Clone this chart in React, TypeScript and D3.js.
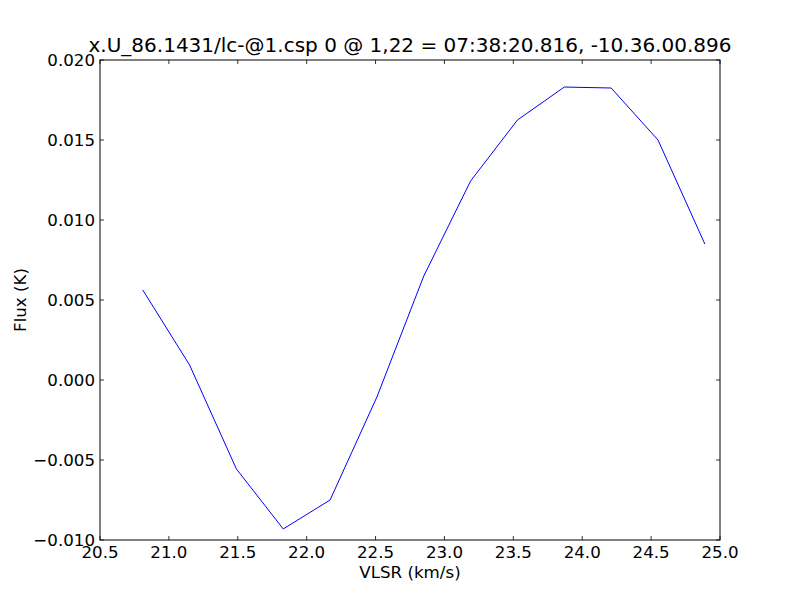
import React from "react";
import * as d3 from "d3";

const velocities = [20.81, 21.15, 21.49, 21.83, 22.17, 22.51, 22.85, 23.19, 23.53, 23.87, 24.21, 24.55, 24.89];
const flux = [0.00563, 0.00094, -0.00556, -0.00931, -0.0075, -0.00106, 0.0065, 0.01244, 0.01625, 0.01831, 0.01825, 0.015, 0.0085];
const xTicks = [20.5, 21.0, 21.5, 22.0, 22.5, 23.0, 23.5, 24.0, 24.5, 25.0];
const yTicks = [-0.01, -0.005, 0.0, 0.005, 0.01, 0.015, 0.02];

const W = 800, H = 600;
const L = 100, R = 720, T = 60, B = 540;
const FONT = "DejaVu Sans, sans-serif";

export default function App() {
  const x = d3.scaleLinear().domain([20.5, 25.0]).range([L, R]);
  const y = d3.scaleLinear().domain([-0.01, 0.02]).range([B, T]);
  const line = d3.line<number>().x((_, i) => x(velocities[i])).y((d) => y(d));
  const fmtY = (v: number) => (v < 0 ? "\u2212" : "") + Math.abs(v).toFixed(3);
  return (
    <svg width={W} height={H} style={{ position: "absolute", left: 0, top: 0, background: "#fff" }}>
      <rect x={0} y={0} width={W} height={H} fill="#fff" />
      <path d={line(flux) || ""} fill="none" stroke="#0000ff" strokeWidth={1} />
      {xTicks.map((t) => (
        <g key={"x" + t}>
          <line x1={x(t)} x2={x(t)} y1={B} y2={B - 4} stroke="#000" strokeWidth={0.8} />
          <line x1={x(t)} x2={x(t)} y1={T} y2={T + 4} stroke="#000" strokeWidth={0.8} />
          <text x={x(t)} y={558} textAnchor="middle" fontFamily={FONT} fontSize={16.67}>{t.toFixed(1)}</text>
        </g>
      ))}
      {yTicks.map((t) => (
        <g key={"y" + t}>
          <line x1={L} x2={L + 4} y1={y(t)} y2={y(t)} stroke="#000" strokeWidth={0.8} />
          <line x1={R} x2={R - 4} y1={y(t)} y2={y(t)} stroke="#000" strokeWidth={0.8} />
          <text x={95} y={y(t)} dy="0.35em" textAnchor="end" fontFamily={FONT} fontSize={16.67}>{fmtY(t)}</text>
        </g>
      ))}
      <rect x={L} y={T} width={R - L} height={B - T} fill="none" stroke="#000" strokeWidth={1} />
      <text x={(L + R) / 2} y={52} textAnchor="middle" fontFamily={FONT} fontSize={20}>x.U_86.1431/lc-@1.csp 0 @ 1,22 = 07:38:20.816, -10.36.00.896</text>
      <text x={(L + R) / 2} y={578} textAnchor="middle" fontFamily={FONT} fontSize={16.67}>VLSR (km/s)</text>
      <text transform={`translate(26,${(T + B) / 2}) rotate(-90)`} textAnchor="middle" fontFamily={FONT} fontSize={16.67}>Flux (K)</text>
    </svg>
  );
}
